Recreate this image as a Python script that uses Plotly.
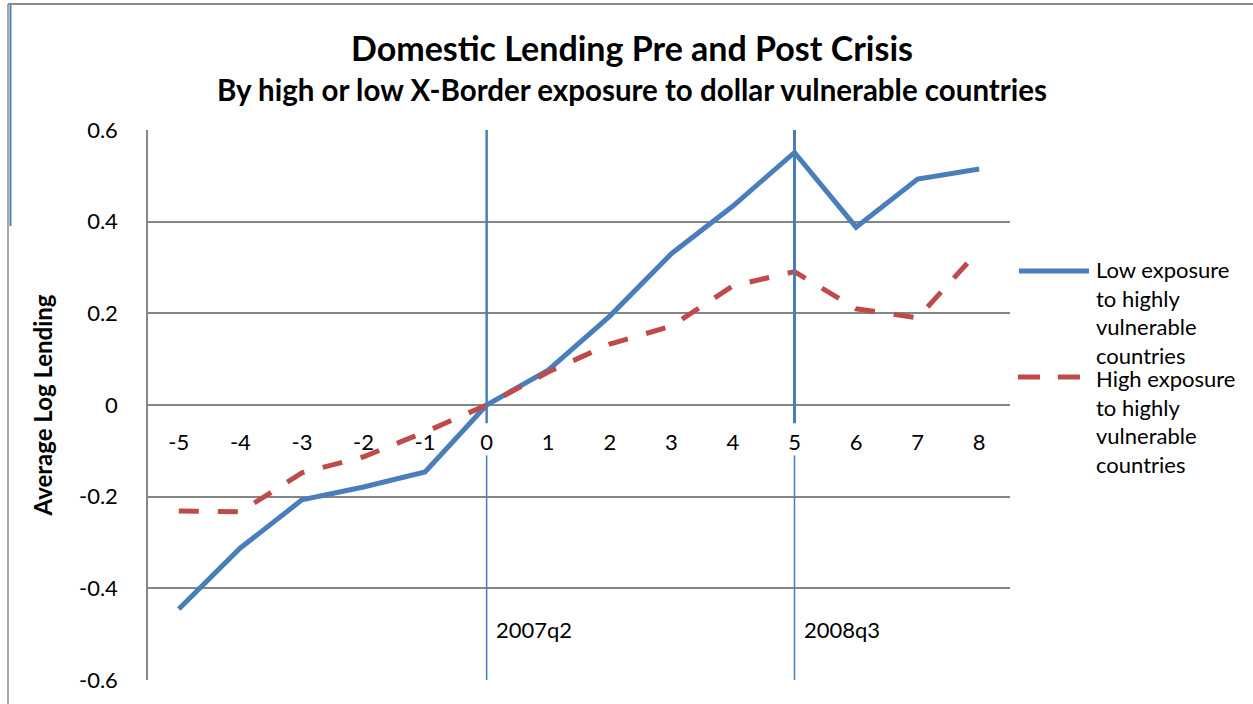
import plotly.graph_objects as go

# ---- data ----
quarters = [-5, -4, -3, -2, -1, 0, 1, 2, 3, 4, 5, 6, 7, 8]
quarter_labels = ["-5", "-4", "-3", "-2", "-1", "0", "1", "2", "3", "4", "5", "6", "7", "8"]
low_exposure = [-0.445, -0.312, -0.207, -0.179, -0.146, 0.0, 0.076, 0.194, 0.330, 0.434, 0.551, 0.388, 0.493, 0.515]
high_exposure = [-0.231, -0.233, -0.148, -0.113, -0.059, 0.0, 0.072, 0.133, 0.172, 0.260, 0.291, 0.210, 0.190, 0.338]
y_ticks = [-0.6, -0.4, -0.2, 0, 0.2, 0.4, 0.6]
y_tick_labels = ["-0.6", "-0.4", "-0.2", "0", "0.2", "0.4", "0.6"]
event_quarters = [0, 5]
event_labels = ["2007q2", "2008q3"]
series_names = ["Low exposure<br>to highly<br>vulnerable<br>countries",
                "High exposure<br>to highly<br>vulnerable<br>countries"]

BLUE = "#4A7EBB"
RED = "#BE4B48"
GRID = "#868686"
FONT = "Lato"

W, H = 1253, 704
L, R, T, B = 148, 1010, 130, 680


def px(x):
    return (x - L) / (R - L)


def py(y):
    return (B - y) / (B - T)


fig = go.Figure()
fig.add_trace(go.Scatter(x=quarters, y=low_exposure, mode="lines",
                         line=dict(color=BLUE, width=5), showlegend=False))
fig.add_trace(go.Scatter(x=quarters, y=high_exposure, mode="lines",
                         line=dict(color=RED, width=5, dash="20px,19px"), showlegend=False))

shapes = []
# event lines (upper thick part, lower thin part)
for q, wtop in zip(event_quarters, [2.5, 3]):
    shapes.append(dict(type="line", xref="x", yref="y", x0=q, x1=q, y0=-0.04, y1=0.6,
                       line=dict(color=BLUE, width=wtop), layer="above"))
    shapes.append(dict(type="line", xref="x", yref="y", x0=q, x1=q, y0=-0.6, y1=-0.11,
                       line=dict(color=BLUE, width=1.5), layer="above"))
# outer frame
shapes.append(dict(type="line", xref="paper", yref="paper", x0=px(8), x1=px(1253), y0=py(4), y1=py(4),
                   line=dict(color="#8a8a8a", width=2)))
shapes.append(dict(type="line", xref="paper", yref="paper", x0=px(8), x1=px(8), y0=py(4), y1=py(704),
                   line=dict(color="#8a8a8a", width=1.5)))
shapes.append(dict(type="line", xref="paper", yref="paper", x0=px(10.5), x1=px(10.5), y0=py(5), y1=py(226),
                   line=dict(color=BLUE, width=2)))
# legend samples
shapes.append(dict(type="line", xref="paper", yref="paper", x0=px(1019), x1=px(1089), y0=py(271), y1=py(271),
                   line=dict(color=BLUE, width=5)))
shapes.append(dict(type="line", xref="paper", yref="paper", x0=px(1018), x1=px(1082), y0=py(377), y1=py(377),
                   line=dict(color=RED, width=5, dash="22px,18px")))

annotations = []
for q, lab in zip(event_quarters, event_labels):
    annotations.append(dict(x=q, y=-0.49, xref="x", yref="y", text=lab, showarrow=False,
                            xanchor="left", yanchor="middle", xshift=7,
                            font=dict(family=FONT, size=22, color="black")))
annotations.append(dict(x=px(632), y=py(48), xref="paper", yref="paper",
                        text="<b>Domestic Lending Pre and Post Crisis</b>", showarrow=False,
                        xanchor="center", yanchor="middle", font=dict(family=FONT, size=34, color="black")))
annotations.append(dict(x=px(632), y=py(90), xref="paper", yref="paper",
                        text="<b>By high or low X-Border exposure to dollar vulnerable countries</b>", showarrow=False,
                        xanchor="center", yanchor="middle", font=dict(family=FONT, size=29.5, color="black")))
for name, ytop in zip(series_names, [254, 363]):
    annotations.append(dict(x=px(1094), y=py(ytop), xref="paper", yref="paper", text=name,
                            showarrow=False, xanchor="left", yanchor="top", align="left",
                            font=dict(family=FONT, size=22, color="black")))

fig.update_layout(
    width=W, height=H,
    margin=dict(l=L, r=W - R, t=T, b=H - B, pad=0),
    paper_bgcolor="white", plot_bgcolor="white",
    shapes=shapes, annotations=annotations,
    font=dict(family=FONT, size=21, color="black"),
    xaxis=dict(range=[-5.5, 8.5], tickvals=quarters, ticktext=quarter_labels,
               anchor="free", position=0.5, showgrid=False, zeroline=False, showline=False,
               ticks="", ticklabelstandoff=22, tickfont=dict(family=FONT, size=22, color="black")),
    yaxis=dict(range=[-0.6, 0.6], tickvals=y_ticks, ticktext=y_tick_labels,
               showgrid=True, gridcolor=GRID, gridwidth=1.5, zeroline=False,
               showline=True, linecolor=GRID, linewidth=1.5, ticks="", ticklabelstandoff=24,
               tickfont=dict(family=FONT, size=22, color="black"),
               title=dict(text="<b>Average Log Lending</b>", standoff=20,
                          font=dict(family=FONT, size=24, color="black"))),
)

fig.write_html("out.html", config={"displayModeBar": False},
               post_script="document.body.style.margin='0';")
